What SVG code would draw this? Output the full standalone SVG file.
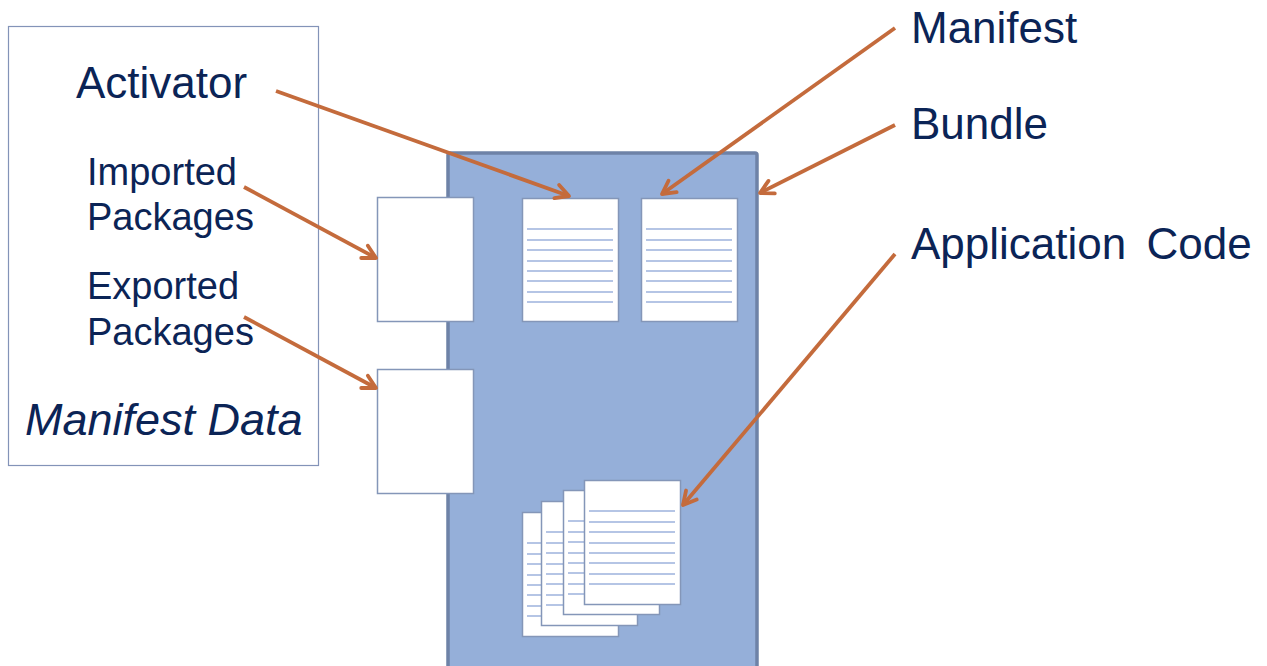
<svg xmlns="http://www.w3.org/2000/svg" width="1267" height="666" viewBox="0 0 1267 666">
  <defs>
    <style>
      .lbl { font-family: "Liberation Sans", Arial, sans-serif; fill: #0B2456; }
      .big { font-size: 44px; }
      .mid { font-size: 38px; }
      .doc { fill: #FFFFFF; stroke: #8496B8; stroke-width: 1.5; }
      .ln { stroke: #9CB2DD; stroke-width: 1.6; }
      .arr { stroke: #C46B3C; stroke-width: 3.8; fill: none; marker-end: url(#ah); }
    </style>
    <marker id="ah" markerUnits="userSpaceOnUse" viewBox="-16 -10 20 20" markerWidth="20" markerHeight="20" refX="0" refY="0" orient="auto">
      <path d="M-13,-7 L0,0 L-13,7" fill="none" stroke="#C46B3C" stroke-width="3.8" stroke-linecap="round" stroke-linejoin="round"/>
    </marker>
    <g id="lines">
      <line class="ln" x1="5" y1="31" x2="91" y2="31"/>
      <line class="ln" x1="5" y1="42" x2="91" y2="42"/>
      <line class="ln" x1="5" y1="52" x2="91" y2="52"/>
      <line class="ln" x1="5" y1="63" x2="91" y2="63"/>
      <line class="ln" x1="5" y1="73" x2="91" y2="73"/>
      <line class="ln" x1="5" y1="83" x2="91" y2="83"/>
      <line class="ln" x1="5" y1="94" x2="91" y2="94"/>
      <line class="ln" x1="5" y1="104" x2="91" y2="104"/>
    </g>
  </defs>
  <rect width="1267" height="666" fill="#FFFFFF"/>

  <g id="manifest-data">
    <rect x="8.5" y="26.5" width="310" height="439" fill="#FFFFFF" stroke="#8393B8" stroke-width="1.2"/>
    <text class="lbl big" x="76" y="98">Activator</text>
    <text class="lbl mid" x="87" y="185">Imported</text>
    <text class="lbl mid" x="87" y="230">Packages</text>
    <text class="lbl mid" x="87" y="299">Exported</text>
    <text class="lbl mid" x="87" y="345">Packages</text>
    <text class="lbl" x="25" y="435" font-size="45" font-style="italic">Manifest Data</text>
  </g>

  <g id="bundle">
    <rect x="448" y="153" width="309" height="530" rx="2" fill="#95AFD9" stroke="#6E82A7" stroke-width="3.5"/>
  </g>

  <g id="imported-box">
    <rect class="doc" x="377.5" y="197.5" width="96" height="124"/>
  </g>
  <g id="exported-box">
    <rect class="doc" x="377.5" y="369.5" width="96" height="124"/>
  </g>

  <g id="activator-doc">
    <rect class="doc" x="522.5" y="198.5" width="96" height="123"/>
    <use href="#lines" x="522" y="198"/>
  </g>
  <g id="manifest-doc">
    <rect class="doc" x="641.5" y="198.5" width="96" height="123"/>
    <use href="#lines" x="641" y="198"/>
  </g>

  <g id="application-code">
    <rect class="doc" x="522.5" y="512.5" width="96" height="124"/>
    <use href="#lines" x="522" y="512"/>
    <rect class="doc" x="541.5" y="501.5" width="96" height="124"/>
    <use href="#lines" x="541" y="501"/>
    <rect class="doc" x="563.5" y="490.5" width="96" height="124"/>
    <use href="#lines" x="563" y="490"/>
    <rect class="doc" x="584.5" y="480.5" width="96" height="124"/>
    <use href="#lines" x="584" y="480"/>
  </g>

  <g id="labels-right">
    <text class="lbl big" x="911" y="43">Manifest</text>
    <text class="lbl big" x="911" y="139">Bundle</text>
    <text class="lbl big" x="911" y="259" word-spacing="8">Application Code</text>
  </g>

  <g id="connectors">
    <line class="arr" x1="276" y1="91" x2="569" y2="196"/>
    <line class="arr" x1="244" y1="187" x2="376" y2="258"/>
    <line class="arr" x1="244" y1="317" x2="376" y2="388"/>
    <line class="arr" x1="895" y1="28" x2="662" y2="194"/>
    <line class="arr" x1="895" y1="125" x2="760" y2="193"/>
    <line class="arr" x1="895" y1="254" x2="683" y2="505"/>
  </g>
</svg>
